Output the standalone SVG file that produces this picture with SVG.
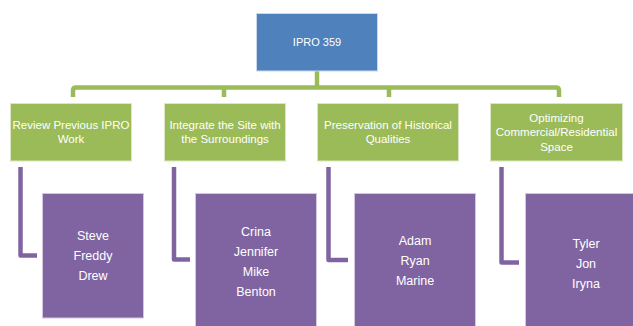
<svg xmlns="http://www.w3.org/2000/svg" width="633" height="326" viewBox="0 0 633 326">
<style>
text{font-family:"Liberation Sans",Arial,sans-serif;fill:#fff;text-anchor:middle}
.top{fill:#4F81BD;stroke:#c9d8ec;stroke-width:1}
.grn{fill:#9BBB59;stroke:#dbe7c4;stroke-width:1}
.pur{fill:#8064A2;stroke:#d3c8e0;stroke-width:1}
.gl{fill:none;stroke:#9BBB59;stroke-width:4.5;stroke-linejoin:round}
.pl{fill:none;stroke:#8064A2;stroke-width:4.5;stroke-linejoin:round}
.t1{font-size:11px}
.t2{font-size:11.5px}
.t3{font-size:12.5px}
</style>
<rect width="633" height="326" fill="#fff"/>
<g id="connectors">
<path class="gl" d="M317,71 V87.5"/>
<path class="gl" d="M73,97 V90.5 Q73,87.5 76,87.5 H556 Q559,87.5 559,90.5 V97"/>
<path class="gl" d="M224,87.5 V97"/>
<path class="gl" d="M389,87.5 V97"/>
<path class="pl" d="M20.5,167 V255.5 H37"/>
<path class="pl" d="M174,167 V259.5 H190"/>
<path class="pl" d="M328.5,167 V260 H348"/>
<path class="pl" d="M501.5,167 V262.5 H519"/>
</g>
<g id="n-ipro">
<rect class="top" x="256.5" y="13.5" width="121" height="57.5"/>
<text class="t1" x="317" y="46">IPRO 359</text>
</g>
<g id="n-review">
<rect class="grn" x="10.5" y="103.5" width="121" height="57.5"/>
<text class="t2" x="71" y="129">Review Previous IPRO</text>
<text class="t2" x="71" y="143">Work</text>
</g>
<g id="n-integrate">
<rect class="grn" x="164.5" y="103.5" width="121" height="57.5"/>
<text class="t2" x="225" y="129">Integrate the Site with</text>
<text class="t2" x="225" y="143">the Surroundings</text>
</g>
<g id="n-preservation">
<rect class="grn" x="317.5" y="103.5" width="141" height="57.5"/>
<text class="t2" x="388" y="129">Preservation of Historical</text>
<text class="t2" x="388" y="143">Qualities</text>
</g>
<g id="n-optimizing">
<rect class="grn" x="490.5" y="103.5" width="132" height="57.5"/>
<text class="t2" x="556.5" y="122">Optimizing</text>
<text class="t2" x="556.5" y="136">Commercial/Residential</text>
<text class="t2" x="556.5" y="151">Space</text>
</g>
<g id="n-team1">
<rect class="pur" x="42.5" y="193.5" width="101" height="124.5"/>
<text class="t3" x="93" y="239.5">Steve</text>
<text class="t3" x="93" y="259.5">Freddy</text>
<text class="t3" x="93" y="280">Drew</text>
</g>
<g id="n-team2">
<rect class="pur" x="195.5" y="193.5" width="121" height="140"/>
<text class="t3" x="256" y="235.5">Crina</text>
<text class="t3" x="256" y="255.5">Jennifer</text>
<text class="t3" x="256" y="275.5">Mike</text>
<text class="t3" x="256" y="295.5">Benton</text>
</g>
<g id="n-team3">
<rect class="pur" x="354.5" y="193.5" width="121" height="140"/>
<text class="t3" x="415" y="244.5">Adam</text>
<text class="t3" x="415" y="264.5">Ryan</text>
<text class="t3" x="415" y="285">Marine</text>
</g>
<g id="n-team4">
<rect class="pur" x="525.5" y="193.5" width="122" height="140"/>
<text class="t3" x="586" y="247.5">Tyler</text>
<text class="t3" x="586" y="267.5">Jon</text>
<text class="t3" x="586" y="287.5">Iryna</text>
</g>
</svg>
